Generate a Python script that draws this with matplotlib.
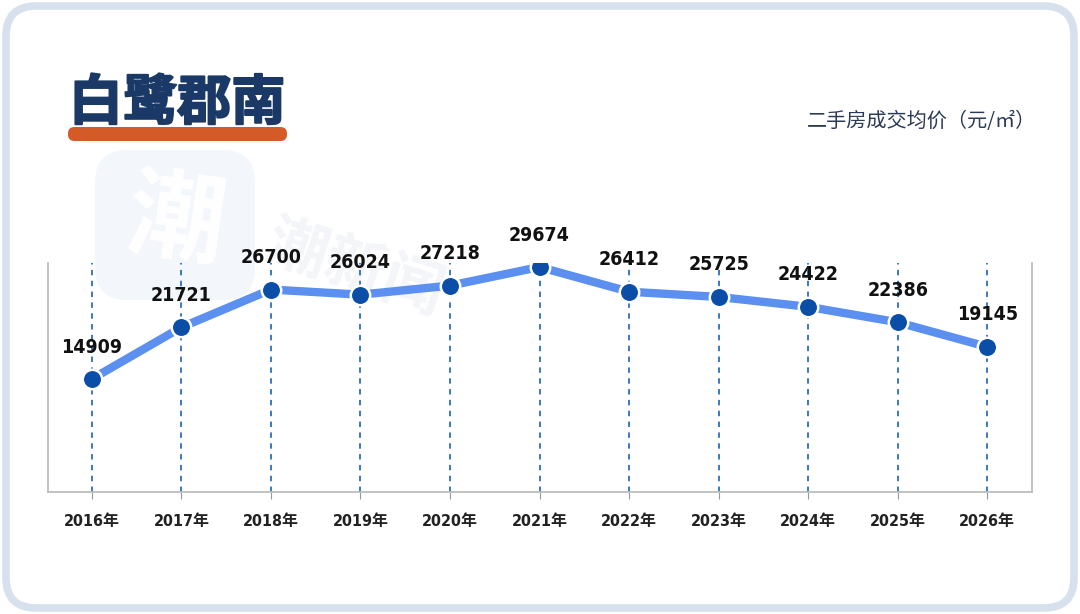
import matplotlib.pyplot as plt
from matplotlib.patches import FancyBboxPatch
import matplotlib.patheffects as pe
import numpy as np

years = ['2016年', '2017年', '2018年', '2019年', '2020年', '2021年',
         '2022年', '2023年', '2024年', '2025年', '2026年']
prices = [14909, 21721, 26700, 26024, 27218, 29674,
          26412, 25725, 24422, 22386, 19145]
title = '白鹭郡南'
unit = '二手房成交均价（元/㎡）'

cjk = ['Noto Sans CJK SC', 'DejaVu Sans']
num_font = ['DejaVu Sans', 'Noto Sans CJK SC']
plt.rcParams['font.family'] = cjk

fig = plt.figure(figsize=(10.8, 6.14), dpi=100)
fig.patch.set_facecolor('white')

# outer card with light blue border
W, H = 1080, 614
card = FancyBboxPatch((6 / W, 6 / H), 1 - 12 / W, 1 - 12 / H,
                      boxstyle='round,pad=0,rounding_size=0.028',
                      transform=fig.transFigure, facecolor='white',
                      edgecolor='#d7e1ee', linewidth=5.5, zorder=0,
                      mutation_aspect=W / H)
fig.patches.append(card)

# faint watermark
wm = FancyBboxPatch((95 / W, (614 - 300) / H), 160 / W, 150 / H,
                    boxstyle='round,pad=0,rounding_size=0.03',
                    transform=fig.transFigure, facecolor='#f3f6fb',
                    edgecolor='none', zorder=0.5, mutation_aspect=W / H)
fig.patches.append(wm)
fig.text(175 / W, (614 - 222) / H, '潮', fontsize=70, color='white',
         ha='center', va='center', weight='bold', zorder=0.6, rotation=-8)
fig.text(355 / W, (614 - 270) / H, '潮新闻', fontsize=44, color='#f3f5f9',
         ha='center', va='center', weight='bold', rotation=-18, zorder=0.6)

# title with orange underline bar
bar = FancyBboxPatch((68 / W, (614 - 141) / H), 219 / W, 14 / H,
                     boxstyle='round,pad=0,rounding_size=0.006',
                     transform=fig.transFigure, facecolor='#d45a27',
                     edgecolor='none', zorder=1, mutation_aspect=W / H)
fig.patches.append(bar)
fig.text(177 / W, (614 - 104) / H, title, fontsize=39, color='#1b3966',
         ha='center', va='center', weight='heavy', zorder=2,
         path_effects=[pe.withStroke(linewidth=1.4, foreground='#1b3966')])
fig.text(1036 / W, (614 - 121) / H, unit, fontsize=14.5, color='#2b3a55',
         ha='right', va='center')

ax = fig.add_axes([48 / W, (614 - 492) / H, (1032 - 48) / W, (492 - 263) / H])
ax.set_zorder(3)
ax.set_facecolor('none')
x = np.arange(len(years))
ax.set_xlim(-0.49, 10.5)
ax.set_ylim(0, 30200)

for xi in x:
    ax.axvline(xi, color='#2f6dbd', linestyle=(0, (3, 3)), linewidth=1.3, zorder=1)

ax.plot(x, prices, color='#5b8ff0', linewidth=6, solid_capstyle='butt', zorder=2)
ax.plot(x, prices, 'o', markersize=14, markerfacecolor='#0a4ea8',
        markeredgecolor='white', markeredgewidth=1.8, zorder=3)

for xi, p in zip(x, prices):
    ax.annotate(f'{p}', (xi, p), xytext=(0, 23), textcoords='offset points',
                ha='center', va='center', fontsize=14, weight='bold',
                stretch='condensed', color='#111111', family=num_font)

ax.set_xticks(x)
ax.set_xticklabels(years, fontsize=11.5, weight='bold', color='#222222',
                   family=num_font, stretch='condensed')
ax.set_yticks([])
ax.tick_params(axis='x', length=5, color='#999999', pad=11)
ax.spines['top'].set_visible(False)
for s in ['left', 'right', 'bottom']:
    ax.spines[s].set_color('#bdbdbd')
    ax.spines[s].set_linewidth(1.3)

fig.savefig('out.png', dpi=100)
